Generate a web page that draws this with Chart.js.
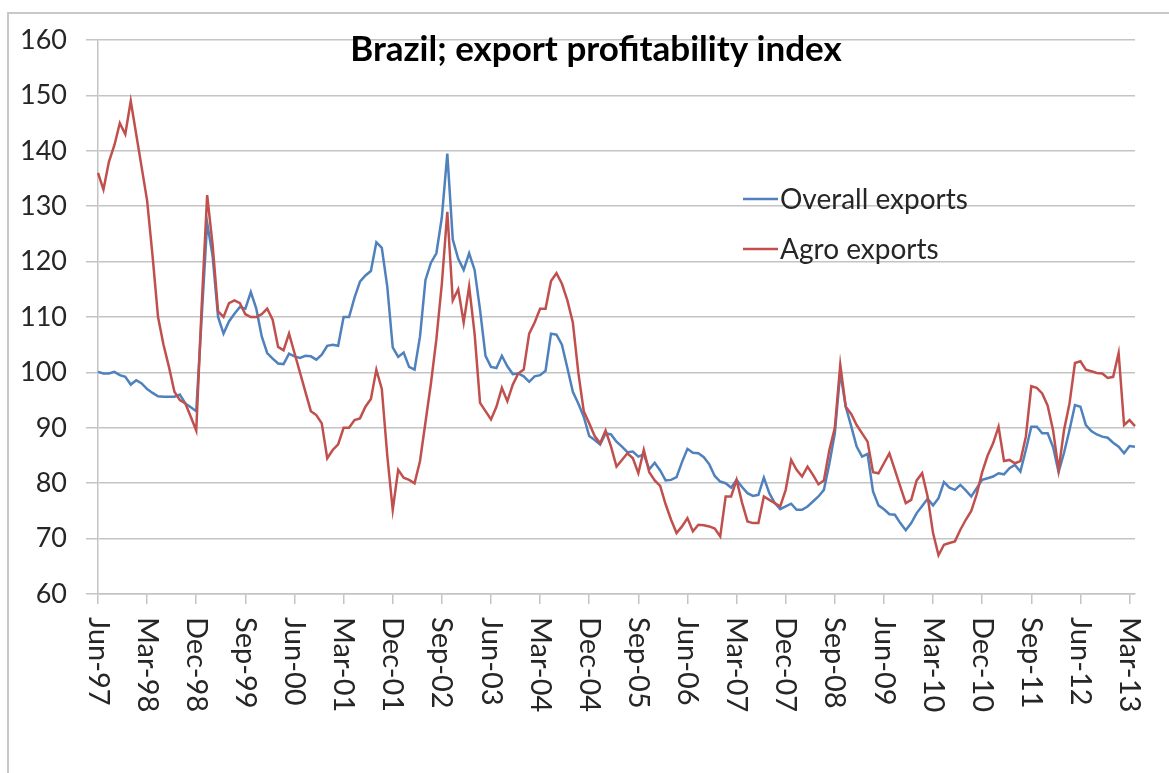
<!DOCTYPE html>
<html><head><meta charset="utf-8">
<script src="https://cdn.jsdelivr.net/npm/chart.js@4.4.1/dist/chart.umd.min.js"></script>
<style>html,body{margin:0;padding:0;background:#fff;}canvas{display:block;}</style>
</head><body>
<canvas id="c" width="1169" height="773"></canvas>
<script>
const monthNames = ["Jan","Feb","Mar","Apr","May","Jun","Jul","Aug","Sep","Oct","Nov","Dec"];
const startYear = 1997, startMonthIndex = 5; // Jun-97

const overallExports = [
100.1, 99.8, 99.8, 100.1, 99.5, 99.2, 97.8, 98.6, 98, 97,
96.3, 95.7, 95.6, 95.6, 95.6, 96, 94.4, 93.7, 93, 110,
127, 121, 110, 107, 109.2, 110.6, 111.8, 111.5, 114.5, 111.5,
106.5, 103.5, 102.5, 101.6, 101.5, 103.4, 102.9, 102.6, 103, 102.9,
102.3, 103.2, 104.8, 105, 104.8, 110, 110, 113.5, 116.4, 117.5,
118.3, 123.5, 122.5, 115.5, 104.5, 102.8, 103.6, 101, 100.5, 106.5,
116.7, 119.8, 121.5, 128, 139.5, 124, 120.5, 118.5, 121.5, 118.5,
111.3, 103, 101, 100.8, 103, 101.1, 99.7, 99.8, 99.3, 98.3,
99.3, 99.5, 100.3, 107, 106.8, 105, 100.8, 96.5, 94.4, 92,
88.5, 87.8, 87, 89, 88.8, 87.5, 86.6, 85.6, 85.7, 84.8,
85.2, 82.5, 83.7, 82.3, 80.5, 80.6, 81.1, 83.8, 86.2, 85.5,
85.4, 84.7, 83.4, 81.3, 80.3, 80, 79.2, 80.6, 79.3, 78.2,
77.7, 77.9, 81, 78.2, 76.4, 75.3, 75.8, 76.3, 75.2, 75.2,
75.8, 76.7, 77.6, 78.8, 83.5, 89, 100, 93.8, 90.3, 86.6,
84.8, 85.3, 78.5, 76, 75.3, 74.4, 74.3, 72.8, 71.5, 72.8,
74.6, 75.9, 77.2, 76, 77.3, 80.2, 79.2, 78.8, 79.7, 78.7,
77.6, 79.1, 80.6, 80.9, 81.2, 81.8, 81.6, 82.7, 83.3, 82.1,
86, 90.2, 90.2, 89, 89, 86.5, 82, 85.5, 89.6, 94.1,
93.8, 90.5, 89.4, 88.8, 88.4, 88.2, 87.3, 86.6, 85.4, 86.7, 86.6
];

const agroExports = [
136, 133, 138, 141, 145, 143, 149, 143, 137, 131,
121, 110, 105, 101, 96.5, 95, 94.4, 92, 89.5, 112,
132, 123, 111, 110, 112.5, 113, 112.5, 110.5, 110, 110,
110.5, 111.5, 109.5, 104.6, 104, 107, 103.5, 100, 96.5, 93,
92.3, 90.8, 84.5, 86, 87, 90, 90, 91.4, 91.7, 93.8,
95.2, 100.5, 97, 85, 75.2, 82.4, 81, 80.6, 80, 84,
91, 98, 106, 116, 129, 113, 115, 109, 115.5, 107,
94.5, 93, 91.5, 93.8, 97.2, 94.8, 97.8, 99.8, 100.5, 107,
109, 111.5, 111.5, 116.5, 117.9, 116, 113, 109, 100, 93,
90.8, 88.5, 87.2, 89.5, 86.6, 83, 84.2, 85.4, 84.5, 81.8,
86, 82, 80.5, 79.5, 76.2, 73.4, 71, 72.2, 73.7, 71.3,
72.5, 72.4, 72.2, 71.8, 70.4, 77.6, 77.6, 80.6, 76.5, 73.1,
72.8, 72.8, 77.6, 77, 76.4, 75.8, 78.8, 84.2, 82.4, 81.2,
83, 81.5, 79.8, 80.5, 86, 90, 101.4, 93.8, 92.5, 90.5,
89, 87.5, 82, 81.8, 83.6, 85.4, 82.4, 79.4, 76.4, 77,
80.5, 81.8, 77.6, 71, 67, 68.9, 69.2, 69.5, 71.6, 73.4,
75, 78, 82, 85, 87.2, 90.2, 84, 84.2, 83.6, 84,
88.4, 97.5, 97.2, 96.2, 94, 89.5, 82.4, 89.6, 94.4, 101.7,
102, 100.5, 100.2, 99.9, 99.8, 99, 99.2, 103.5, 90.5, 91.4, 90.3
];

const tickLabels = ["Jun-97","Mar-98","Dec-98","Sep-99","Jun-00","Mar-01","Dec-01","Sep-02","Jun-03","Mar-04","Dec-04","Sep-05","Jun-06","Mar-07","Dec-07","Sep-08","Jun-09","Mar-10","Dec-10","Sep-11","Jun-12","Mar-13"];
const seriesNames = ["Overall exports","Agro exports"];
const seriesColors = ["#4F81BD","#C0504D"];
const titleText = "Brazil; export profitability index";

const categories = overallExports.map((_, i) => {
  const m = (startMonthIndex + i) % 12;
  const y = startYear + Math.floor((startMonthIndex + i) / 12);
  return monthNames[m] + "-" + String(y % 100).padStart(2, "0");
});

const FONT = "Lato, 'Open Sans', sans-serif";
const TEXT = "#262626";
const GRID = "#C4C4C4";

const decor = {
  id: "decor",
  beforeDraw(chart) {
    const ctx = chart.ctx;
    ctx.save();
    ctx.fillStyle = "#fff";
    ctx.fillRect(0, 0, chart.width, chart.height);
    ctx.strokeStyle = "#C8C8C8";
    ctx.lineWidth = 2;
    ctx.beginPath();
    ctx.moveTo(8, chart.height + 5);
    ctx.lineTo(8, 13);
    ctx.lineTo(chart.width + 5, 13);
    ctx.stroke();
    ctx.restore();
  },
  afterDraw(chart) {
    const ctx = chart.ctx;
    const xs = chart.scales.x;
    ctx.save();
    // rotated x tick labels (clockwise)
    ctx.fillStyle = TEXT;
    ctx.font = "29px " + FONT;
    ctx.textAlign = "left";
    ctx.textBaseline = "middle";
    categories.forEach((lab, i) => {
      if (!tickLabels.includes(lab)) return;
      const x = xs.getPixelForValue(i);
      ctx.save();
      ctx.translate(x, xs.top + 23);
      ctx.rotate(Math.PI / 2);
      ctx.fillText(lab, 0, 0);
      ctx.restore();
    });
    // title
    ctx.font = "bold 35px " + FONT;
    ctx.fillStyle = "#000";
    ctx.textAlign = "center";
    ctx.textBaseline = "alphabetic";
    ctx.fillText(titleText, 596, 61);
    // legend
    ctx.font = "28px " + FONT;
    ctx.textAlign = "left";
    ctx.textBaseline = "middle";
    chart.data.datasets.forEach((ds, k) => {
      const y = 199 + k * 50;
      ctx.strokeStyle = ds.borderColor;
      ctx.lineWidth = 2.5;
      ctx.beginPath();
      ctx.moveTo(743, y);
      ctx.lineTo(778, y);
      ctx.stroke();
      ctx.fillStyle = TEXT;
      ctx.fillText(ds.label, 780, y + 1);
    });
    ctx.restore();
  }
};

new Chart(document.getElementById("c"), {
  type: "line",
  data: {
    labels: categories,
    datasets: [
      { label: seriesNames[0], data: overallExports, borderColor: seriesColors[0], backgroundColor: seriesColors[0], borderWidth: 2.5, pointRadius: 0, tension: 0, order: 2 },
      { label: seriesNames[1], data: agroExports, borderColor: seriesColors[1], backgroundColor: seriesColors[1], borderWidth: 2.5, pointRadius: 0, tension: 0, order: 1 }
    ]
  },
  options: {
    responsive: false,
    animation: false,
    events: [],
    layout: { padding: { left: 8, top: 40, right: 34, bottom: 0 } },
    plugins: { legend: { display: false }, title: { display: false }, tooltip: { enabled: false } },
    scales: {
      x: {
        type: "category",
        offset: false,
        grid: { display: true, drawOnChartArea: false, drawTicks: true, tickLength: 10, color: GRID, lineWidth: 1.5, offset: false },
        border: { display: true, color: GRID, width: 1.5 },
        ticks: {
          autoSkip: false, minRotation: 90, maxRotation: 90, color: "rgba(0,0,0,0)",
          font: { size: 25, family: FONT },
          callback: (v, i) => tickLabels.includes(categories[i]) ? categories[i] : null
        },
        afterFit: s => { s.height = 773 - 594; }
      },
      y: {
        min: 60, max: 160,
        grid: { color: GRID, lineWidth: 1.5, tickLength: 12, drawTicks: true },
        border: { display: true, color: GRID, width: 1.5 },
        ticks: { stepSize: 10, color: TEXT, font: { size: 27, family: FONT }, padding: 19 },
        afterFit: s => { s.width = 90; }
      }
    }
  },
  plugins: [decor]
});
</script>
</body></html>
